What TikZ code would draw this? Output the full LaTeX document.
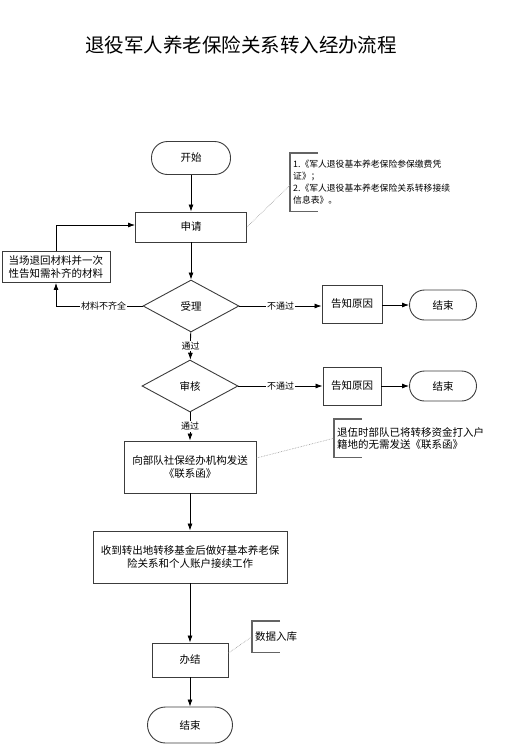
\documentclass[tikz,border=0pt]{standalone}
\usepackage{fontspec}
\setmainfont{Noto Sans CJK SC}
\usetikzlibrary{arrows.meta,shapes.geometric}
\definecolor{edgegray}{RGB}{60,60,60}
\definecolor{bracketgray}{RGB}{100,100,100}
\definecolor{dotgray}{RGB}{150,150,150}

\tikzset{
  base/.style={draw=edgegray, line width=0.9pt, font=\fontsize{10.5}{13}\selectfont, align=center, inner sep=2pt},
  terminal/.style={base, rounded corners=16pt, minimum width=79pt, minimum height=33pt},
  endterm/.style={base, rounded corners=15pt, minimum width=67pt, minimum height=30pt},
  stepbox/.style={base, rectangle},
  decision/.style={base, diamond, aspect=1.8, inner sep=0pt, minimum width=96pt, minimum height=52pt},
  flow/.style={draw=black, line width=0.8pt, -{Latex[length=7pt,width=5pt]}},
  tag/.style={fill=white, inner sep=1pt, font=\fontsize{9}{10}\selectfont},
  note/.style={font=\fontsize{#1}{12}\selectfont, align=left, inner xsep=3pt, inner ysep=0pt, anchor=north west},
  bracket/.style={draw=bracketgray, line width=1.2pt},
  link/.style={draw=dotgray, densely dotted, line width=0.6pt}
}

\begin{document}
\begin{tikzpicture}[x=1pt, y=-1pt]
  \useasboundingbox (0,0) rectangle (507,750);

  \node[font=\fontsize{19.5}{22}\selectfont] (title) at (241,45) {退役军人养老保险关系转入经办流程};

  % main column
  \node[terminal] (start) at (191,158) {开始};
  \node[stepbox, minimum width=111pt, minimum height=30pt] (apply) at (191,227) {申请};
  \node[decision] (accept) at (191,306) {受理};
  \node[decision] (review) at (190,386) {审核};
  \node[stepbox, minimum width=132pt, minimum height=52pt] (send) at (190,467) {向部队社保经办机构发送\\《联系函》};
  \node[stepbox, minimum width=194pt, minimum height=52pt] (collect) at (190,557) {收到转出地转移基金后做好基本养老保\\险关系和个人账户接续工作};
  \node[stepbox, minimum width=76pt, minimum height=34pt] (done) at (190,660) {办结};
  \node[terminal, minimum width=85pt, minimum height=36pt, rounded corners=18pt] (finish) at (190,725) {结束};

  % side branches
  \node[stepbox, minimum width=108pt, minimum height=31pt] (reject) at (56,267) {当场退回材料并一次\\性告知需补齐的材料};
  \node[stepbox, minimum width=60pt, minimum height=38pt] (reason1) at (352,304) {告知原因};
  \node[endterm] (end1) at (443,305) {结束};
  \node[stepbox, minimum width=58pt, minimum height=38pt] (reason2) at (352,386) {告知原因};
  \node[endterm] (end2) at (443,386) {结束};

  % notes
  \node[note=8.8, minimum height=58pt] (note1) at (290,153) {1.《军人退役基本养老保险参保缴费凭\\证》；\\2.《军人退役基本养老保险关系转移接续\\信息表》。};
  \node[note=10.5, minimum height=38pt] (note2) at (334,419) {退伍时部队已将转移资金打入户\\籍地的无需发送《联系函》};
  \node[note=10.5, minimum height=31pt] (note3) at (252,621) {数据入库};
  \foreach \n in {note1,note2,note3}
    \draw[bracket] ([xshift=28pt]\n.north west) -- (\n.north west) -- (\n.south west) -- ([xshift=28pt]\n.south west);

  \draw[link] (apply.east) -- ([yshift=-3pt]note1.west);
  \draw[link] ([yshift=9pt]send.east) -- (note2.west);
  \draw[link] ([yshift=7pt]done.east) -- (note3.west);

  % connectors
  \draw[flow] (start) -- (apply);
  \draw[flow] (apply) -- (accept);
  \draw[flow] (accept) -- node[tag] {通过} (review);
  \draw[flow] (review) -- node[tag] {通过} (send);
  \draw[flow] (send) -- (collect);
  \draw[flow] (collect) -- (done);
  \draw[flow] (done) -- (finish);

  \draw[flow] (accept.west) -- node[tag, pos=0.45] {材料不齐全} (accept.west -| reject.south) -- (reject.south);
  \draw[flow] (reject.north) |- ([yshift=2pt]apply.west);

  \draw[flow] (accept.east) -- node[tag] {不通过} (reason1.west |- accept.east);
  \draw[flow] (reason1.east |- end1.west) -- (end1.west);
  \draw[flow] (review.east) -- node[tag] {不通过} (reason2.west);
  \draw[flow] (reason2) -- (end2);
\end{tikzpicture}
\end{document}
